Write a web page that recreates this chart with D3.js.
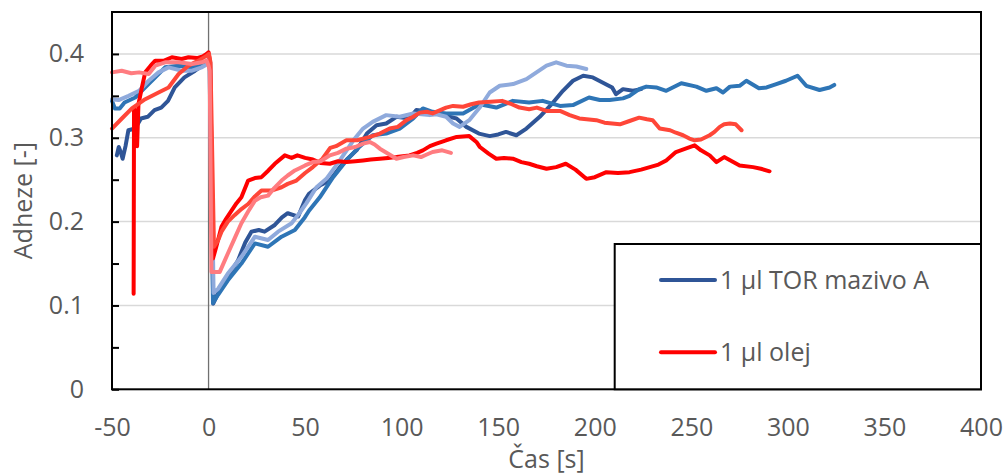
<!DOCTYPE html>
<html><head><meta charset="utf-8">
<script src="https://cdn.jsdelivr.net/npm/d3@7"></script>
<style>
body{margin:0;background:#fff}
text{font-family:"Open Sans",sans-serif;fill:#595959}
</style>
</head><body>
<svg id="chart" width="1006" height="474"></svg>
<script>
// ---- data ----
const xTicks = [-50, 0, 50, 100, 150, 200, 250, 300, 350, 400];
const yTicks = [0, 0.05, 0.1, 0.15, 0.2, 0.25, 0.3, 0.35, 0.4];
const yGrid = [0.1, 0.2, 0.3, 0.4];
const legendLabels = ["1 µl TOR mazivo A", "1 µl olej"];
const xTitle = "Čas [s]";
const yTitle = "Adheze [-]";

const tor1 = [[-47.5,0.279],[-46.5,0.289],[-45.5,0.283],[-44.5,0.275],[-43,0.29],[-41.5,0.309],[-38,0.311],[-35,0.323],[-31.5,0.325],[-28,0.333],[-24.5,0.336],[-21,0.344],[-17.5,0.36],[-12.5,0.372],[-7,0.38],[-2,0.388],[0,0.392],[0.8,0.39],[2.4,0.102],
[5,0.115],[10,0.134],[15.3,0.154],[19,0.175],[22.2,0.188],[26,0.19],[29,0.188],[34.3,0.196],[38,0.205],[41,0.21],[46.4,0.206],[49.8,0.225],[52,0.233],[57.6,0.243],[62.8,0.249],[68,0.265],[72,0.275],[76.6,0.285],[82,0.305],[87,0.315],[92,0.317],[97.3,0.325],[104,0.323],[107.6,0.333],[114.6,0.331],[121.4,0.327],[128.4,0.323],[133.5,0.313],[140,0.305],[145.6,0.302],[150,0.304],[154,0.307],[159.4,0.303],[164.6,0.311],[171.5,0.325],[178.4,0.342],[183.5,0.356],[188.7,0.368],[194,0.374],[199,0.372],[204,0.366],[209,0.36],[211,0.352],[214.6,0.358],[219.8,0.356],[224,0.358]];

const tor2 = [[-50,0.344],[-48.5,0.335],[-46,0.335],[-43.5,0.342],[-38,0.348],[-32.8,0.36],[-27.6,0.372],[-22.5,0.384],[-15.5,0.386],[-8.6,0.384],[-3.5,0.386],[-0.5,0.392],[0.5,0.39],[2.3,0.103],
[5,0.113],[10,0.13],[17,0.15],[24,0.174],[30.8,0.17],[37.8,0.182],[44.7,0.19],[49.8,0.205],[52,0.213],[57.6,0.229],[64.5,0.253],[71.4,0.273],[78,0.289],[85,0.303],[92,0.305],[99,0.311],[106,0.323],[111,0.335],[116,0.331],[123,0.329],[131.8,0.329],[140.4,0.34],[149,0.336],[157.6,0.344],[166,0.342],[173,0.344],[182,0.338],[188.7,0.339],[197,0.348],[202.6,0.345],[207.7,0.345],[214.6,0.347],[218,0.35],[223,0.358],[226.7,0.361],[231.8,0.36],[237,0.356],[244.8,0.365],[252.6,0.361],[257.8,0.356],[263,0.359],[266.4,0.354],[270,0.361],[275,0.362],[278.5,0.368],[285,0.359],[289,0.36],[294,0.364],[299,0.368],[305,0.374],[309.5,0.362],[316.4,0.357],[321.6,0.36],[324,0.363]];

const tor3 = [[-50,0.346],[-46.6,0.345],[-41.4,0.35],[-36,0.356],[-31,0.368],[-25.9,0.378],[-20.7,0.384],[-13.8,0.38],[-8.6,0.38],[-3.5,0.384],[-0.5,0.388],[0.8,0.392],[2.6,0.115],
[5,0.12],[10,0.138],[17,0.158],[24,0.182],[30.8,0.178],[36,0.188],[43,0.198],[47,0.21],[50.7,0.222],[55.9,0.241],[61,0.251],[68,0.273],[75,0.297],[80,0.311],[85,0.319],[92,0.327],[99,0.325],[106,0.329],[114.6,0.327],[118,0.328],[123,0.325],[126.6,0.317],[130,0.313],[135,0.321],[140.4,0.336],[145.6,0.354],[150.8,0.362],[157.7,0.364],[164.6,0.37],[169.8,0.378],[175,0.386],[180,0.39],[185.3,0.386],[190.5,0.385],[195.6,0.382]];

const olej1 = [[-38.8,0.114],[-38.6,0.335],[-37.8,0.33],[-37,0.29],[-36.3,0.34],[-34.5,0.36],[-32.8,0.378],[-30,0.386],[-27.6,0.392],[-23,0.392],[-19,0.396],[-14,0.394],[-10.4,0.396],[-6,0.395],[-3,0.397],[-1,0.4],[0,0.402],[0.8,0.39],[2.3,0.156],
[4,0.17],[6.7,0.194],[9,0.203],[11.9,0.213],[14.5,0.222],[17,0.229],[20.5,0.249],[24,0.252],[27.4,0.253],[31,0.261],[34.3,0.269],[39.5,0.279],[43,0.276],[46,0.279],[50,0.276],[54,0.274],[58,0.27],[62.8,0.269],[67,0.272],[71.4,0.271],[76,0.272],[80,0.273],[84,0.274],[88.7,0.275],[93,0.276],[97.3,0.277],[104,0.279],[108,0.282],[111,0.285],[114.6,0.29],[118,0.293],[123,0.297],[128.5,0.301],[135,0.302],[138.7,0.295],[140.5,0.289],[145,0.281],[149,0.275],[153,0.276],[157.6,0.275],[162,0.271],[166,0.269],[170,0.266],[175,0.263],[180,0.265],[185,0.269],[190,0.262],[195.6,0.251],[200,0.253],[206,0.259],[212,0.258],[218,0.259],[224,0.262],[228.5,0.265],[233,0.268],[237,0.273],[242,0.283],[247,0.287],[251.7,0.291],[255,0.285],[259.5,0.279],[263,0.271],[267,0.277],[271,0.272],[275,0.267],[282,0.265],[286,0.263],[290.5,0.26]];

const olej2 = [[-50,0.311],[-44.9,0.323],[-39.7,0.335],[-32.8,0.346],[-25.9,0.354],[-20.7,0.36],[-15.5,0.376],[-10.4,0.386],[-5.2,0.392],[-0.9,0.398],[0.2,0.4],[1,0.39],[2.8,0.17],
[5,0.178],[6.7,0.188],[10,0.2],[13.6,0.208],[17,0.215],[20.5,0.221],[24,0.23],[27.4,0.237],[32.6,0.237],[37.8,0.241],[41,0.245],[45.5,0.249],[50,0.258],[54,0.265],[59,0.275],[63,0.288],[66,0.29],[71.4,0.297],[77,0.297],[83.5,0.301],[88.7,0.305],[93.8,0.311],[98,0.313],[102.5,0.321],[106,0.325],[109.4,0.33],[113,0.331],[116,0.329],[120,0.333],[123,0.336],[126.6,0.338],[131.8,0.337],[136,0.34],[140,0.342],[146,0.343],[152,0.344],[157,0.34],[161,0.336],[166,0.334],[170,0.336],[175,0.332],[182,0.332],[187,0.327],[192,0.323],[200.8,0.321],[205,0.318],[209,0.317],[213,0.316],[218,0.32],[223,0.324],[227,0.322],[230,0.321],[233.6,0.311],[239,0.309],[242,0.306],[245.7,0.303],[249,0.299],[251.7,0.297],[255,0.298],[259.5,0.303],[262,0.307],[264.7,0.313],[267,0.316],[270,0.317],[273,0.316],[276,0.309]];

const olej3 = [[-50,0.378],[-45,0.38],[-40,0.377],[-36,0.378],[-31,0.376],[-27.6,0.386],[-22.5,0.39],[-15.5,0.39],[-8.6,0.388],[-3.5,0.39],[-1,0.392],[0,0.386],[0.6,0.38],[1.5,0.14],
[5.8,0.14],[10,0.162],[13.5,0.18],[17,0.198],[20.5,0.212],[24,0.225],[27,0.229],[30.8,0.231],[34,0.24],[37.8,0.249],[41,0.255],[44.7,0.261],[50,0.267],[54,0.271],[58,0.272],[62.8,0.279],[67,0.282],[71.4,0.287],[76,0.289],[80,0.293],[83.5,0.295],[86,0.292],[88.7,0.287],[93,0.281],[97.3,0.275],[101,0.277],[106,0.279],[110,0.277],[113,0.28],[116,0.283],[121,0.285],[125.5,0.282]];

const seriesList = [
  {data: tor1, color: "#2F5597"},
  {data: tor2, color: "#2E75B6"},
  {data: tor3, color: "#8FAADC"},
  {data: olej1, color: "#FF0000"},
  {data: olej2, color: "#FF4638"},
  {data: olej3, color: "#FF7C80"}
];
const legendColors = ["#2F5597", "#FF0000"];

// ---- chart ----
const svg = d3.select("#chart");
const L = 112, R = 981, T = 12, B = 389.3;
const x = d3.scaleLinear().domain([-50, 400]).range([L, R]);
const y = d3.scaleLinear().domain([0, 0.45]).range([B, T]);

// grid
svg.append("g").selectAll("line").data(yGrid).join("line")
  .attr("x1", L).attr("x2", R).attr("y1", d => y(d)).attr("y2", d => y(d))
  .attr("stroke", "#d9d9d9").attr("stroke-width", 1.5);

// zero vertical line
svg.append("line").attr("x1", x(0)).attr("x2", x(0)).attr("y1", T).attr("y2", B)
  .attr("stroke", "#707070").attr("stroke-width", 1.3);

// series
const line = d3.line().x(d => x(d[0])).y(d => y(d[1]));
svg.append("g").selectAll("path").data(seriesList).join("path")
  .attr("d", d => line(d.data)).attr("fill", "none")
  .attr("stroke", d => d.color).attr("stroke-width", 4)
  .attr("stroke-linejoin", "round").attr("stroke-linecap", "round");

// plot border
svg.append("rect").attr("x", L).attr("y", T).attr("width", R - L).attr("height", B - T)
  .attr("fill", "none").attr("stroke", "#000").attr("stroke-width", 2);

// y axis
const yAxis = d3.axisLeft(y).tickValues(yTicks).tickSize(-7).tickPadding(28)
  .tickFormat(d => Math.abs(d * 10 - Math.round(d * 10)) < 1e-9 ? String(+d.toFixed(1)) : "");
const gy = svg.append("g").attr("transform", `translate(${L},0)`).call(yAxis);
gy.select(".domain").remove();
gy.selectAll(".tick line").attr("stroke", "#000").attr("stroke-width", 2);
gy.selectAll("text").attr("font-size", 25).attr("font-family", '"Open Sans",sans-serif').attr("fill", "#595959");

// x axis
const xAxis = d3.axisBottom(x).tickValues(xTicks).tickSize(0).tickPadding(29).tickFormat(d => String(d));
const gx = svg.append("g").attr("transform", `translate(0,${B})`).call(xAxis);
gx.select(".domain").remove();
gx.selectAll("text").attr("font-size", 25).attr("font-family", '"Open Sans",sans-serif').attr("fill", "#595959");

// titles
svg.append("text").attr("x", (L + R) / 2).attr("y", 468).attr("text-anchor", "middle")
  .attr("font-size", 25).text(xTitle);
svg.append("text").attr("transform", `translate(32,${(T + B) / 2}) rotate(-90)`)
  .attr("text-anchor", "middle").attr("font-size", 25).text(yTitle);

// legend
const lg = svg.append("g");
lg.append("rect").attr("x", 614.7).attr("y", 244).attr("width", R - 614.7).attr("height", B - 244)
  .attr("fill", "#fff").attr("stroke", "#000").attr("stroke-width", 2);
const legY = [280, 352.3];
legendLabels.forEach((lab, i) => {
  lg.append("line").attr("x1", 661).attr("x2", 715).attr("y1", legY[i]).attr("y2", legY[i])
    .attr("stroke", legendColors[i]).attr("stroke-width", 4).attr("stroke-linecap", "round");
  lg.append("text").attr("x", 720).attr("y", legY[i]).attr("dy", "0.35em")
    .attr("font-size", 25).text(lab);
});
</script>
</body></html>
